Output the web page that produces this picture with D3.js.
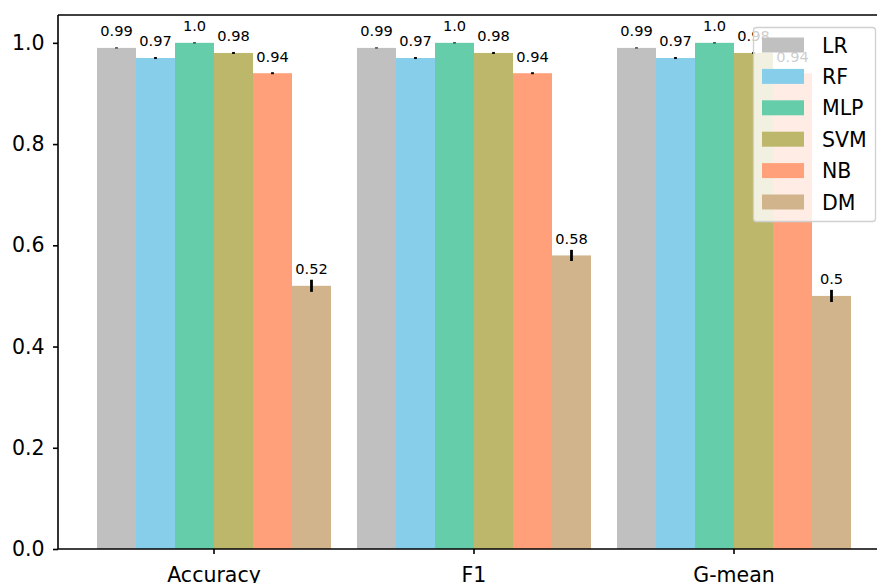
<!DOCTYPE html>
<html>
<head>
<meta charset="utf-8">
<script src="https://d3js.org/d3.v7.min.js"></script>
<style>
  html, body { margin: 0; padding: 0; background: #fff; }
  svg { display: block; font-family: "DejaVu Sans", sans-serif; }
</style>
</head>
<body>
<svg id="chart" width="877" height="583"></svg>
<script>
const categories = ["Accuracy", "F1", "G-mean"];
const models = ["LR", "RF", "MLP", "SVM", "NB", "DM"];
const colors = ["#c0c0c0", "#87ceeb", "#66cdaa", "#bdb76b", "#ffa07a", "#d2b48c"];
const valuesLR  = [0.99, 0.99, 0.99];
const valuesRF  = [0.97, 0.97, 0.97];
const valuesMLP = [1.0, 1.0, 1.0];
const valuesSVM = [0.98, 0.98, 0.98];
const valuesNB  = [0.94, 0.94, 0.94];
const valuesDM  = [0.52, 0.58, 0.5];
const errLR  = [0.001, 0.001, 0.001];
const errRF  = [0.002, 0.002, 0.002];
const errMLP = [0.001, 0.001, 0.001];
const errSVM = [0.002, 0.002, 0.002];
const errNB  = [0.002, 0.002, 0.002];
const errDM  = [0.012, 0.011, 0.012];
const yTicks = [0.0, 0.2, 0.4, 0.6, 0.8, 1.0];

(function () {
const seriesValues = [valuesLR, valuesRF, valuesMLP, valuesSVM, valuesNB, valuesDM];
const seriesErr = [errLR, errRF, errMLP, errSVM, errNB, errDM];

const rows = [];
models.forEach((m, i) => {
  categories.forEach((c, j) => {
    rows.push({model: m, cat: c, value: seriesValues[i][j], err: seriesErr[i][j]});
  });
});

const svg = d3.select("#chart");
const pLeft = 58, pRight = 890, pTop = 15, pBottom = 549;

const x0 = d3.scaleBand().domain(categories).range([pLeft, pRight]).paddingInner(0).paddingOuter(0.1);
const x1 = d3.scaleBand().domain(models).range([x0.bandwidth() * 0.05, x0.bandwidth() * 0.95]);
const y = d3.scaleLinear().domain([0, 1.055]).range([pBottom, pTop]);
const color = d3.scaleOrdinal().domain(models).range(colors);

const fmt = v => (v % 1 === 0 ? v.toFixed(1) : String(v));
const cx = d => x0(d.cat) + x1(d.model) + x1.bandwidth() / 2;

// bars
svg.append("g").selectAll("rect").data(rows).join("rect")
  .attr("x", d => x0(d.cat) + x1(d.model))
  .attr("y", d => y(d.value))
  .attr("width", x1.bandwidth())
  .attr("height", d => y(0) - y(d.value))
  .attr("fill", d => color(d.model));

// error bars
svg.append("g").selectAll("line").data(rows).join("line")
  .attr("x1", cx).attr("x2", cx)
  .attr("y1", d => y(d.value - d.err))
  .attr("y2", d => y(d.value + d.err))
  .attr("stroke", "#000")
  .attr("stroke-width", 2.8);

// value labels
svg.append("g").selectAll("text").data(rows).join("text")
  .attr("x", cx)
  .attr("y", d => y(d.value + 0.02) - 1.5)
  .attr("text-anchor", "middle")
  .attr("font-size", "14.6px")
  .attr("fill", "#000")
  .text(d => fmt(d.value));

// axes
const yAxis = svg.append("g").attr("transform", `translate(${pLeft},0)`)
  .call(d3.axisLeft(y).tickValues(yTicks).tickFormat(d3.format(".1f")).tickSizeOuter(0).tickSize(5).tickPadding(8.5));
const xAxis = svg.append("g").attr("transform", `translate(0,${pBottom})`)
  .call(d3.axisBottom(x0).tickSizeOuter(0).tickSize(5).tickPadding(13));

[yAxis, xAxis].forEach(a => {
  a.select(".domain").attr("stroke", "#000").attr("stroke-width", 1.6);
  a.selectAll(".tick line").attr("stroke", "#000").attr("stroke-width", 1.6);
  a.selectAll(".tick text").attr("font-size", "20.5px").attr("font-family", "DejaVu Sans, sans-serif").attr("fill", "#000");
});
yAxis.select(".domain").attr("d", `M0,${pTop}V${pBottom}`);
xAxis.select(".domain").attr("d", `M${pLeft},0H${pRight}`);

// top spine
svg.append("line").attr("x1", pLeft).attr("x2", pRight).attr("y1", pTop).attr("y2", pTop)
  .attr("stroke", "#000").attr("stroke-width", 1.6);

// legend
const lg = svg.append("g");
lg.append("rect")
  .attr("x", 753.5).attr("y", 27.5).attr("width", 122).attr("height", 194)
  .attr("rx", 3).attr("ry", 3)
  .attr("fill", "rgba(255,255,255,0.8)")
  .attr("stroke", "#d0d0d0").attr("stroke-width", 1.3);
const rowStep = 31.4;
const items = lg.selectAll("g.item").data(models).join("g").attr("class", "item")
  .attr("transform", (d, i) => `translate(0,${45 + i * rowStep})`);
items.append("rect").attr("x", 762).attr("y", -7.5).attr("width", 42).attr("height", 15)
  .attr("fill", d => color(d));
items.append("text").attr("x", 822).attr("y", 7.5)
  .attr("font-size", "20.5px").attr("fill", "#000").text(d => d);
})();
</script>
</body>
</html>
